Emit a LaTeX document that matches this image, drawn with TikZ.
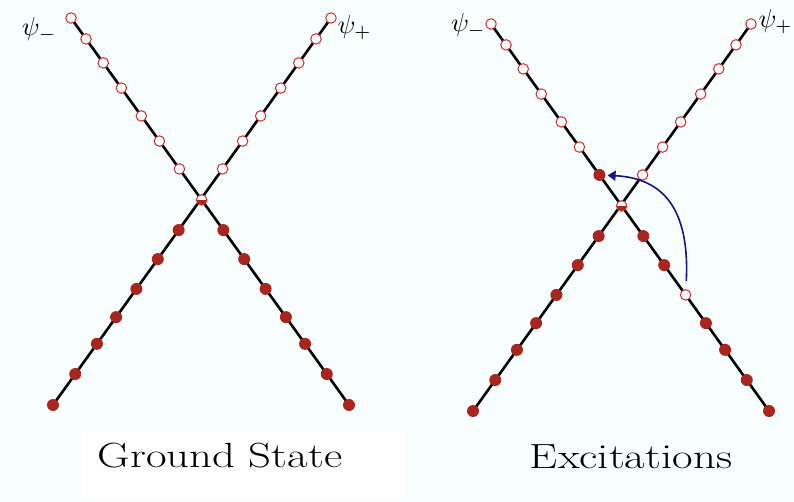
\documentclass[tikz,border=0pt]{standalone}
\usepackage{fontspec}
\usepackage{tikz}
\usetikzlibrary{arrows.meta, positioning, calc}
\definecolor{holered}{HTML}{D22B2B}
\definecolor{partred}{HTML}{A8261E}
\definecolor{jumpblue}{HTML}{16167E}
\definecolor{bgtint}{HTML}{F8FDFD}

\begin{document}
\begin{tikzpicture}[x=1pt, y=-1pt, every node/.style={inner sep=0pt},
    arm/.style={line width=2.6pt, black},
    hole/.style={circle, minimum size=10.5pt, draw=holered, line width=1pt, fill=white},
    part/.style={circle, minimum size=12pt, fill=partred},
    half/.style={hole, path picture={\fill[partred] (path picture bounding box.west) rectangle (path picture bounding box.south east);}},
    psilabel/.style={scale=2.6},
    paneltitle/.style={font=\fontsize{35}{38}\selectfont, xscale=1.28, anchor=base},
    jump/.style={jumpblue, line width=1.6pt, -{Triangle[length=8pt, width=10pt]}, shorten <=8pt, shorten >=2pt}]
                \useasboundingbox (0,0) rectangle (794,502);
                \fill[bgtint] (0,0) rectangle (794,502);
                \fill[white] (82,432) rectangle (405,500);
                % ground state
                \coordinate (gmtop) at (71,18);
                \coordinate (gmbot) at (349,405);
                \coordinate (gptop) at (331,18);
                \coordinate (gpbot) at (53,405);
                \draw[arm] (gmtop) -- (gmbot);
                \draw[arm] (gptop) -- (gpbot);
                \foreach \t [count=\i] in {0,.054,.116,.181,.253,.318,.390} {
                    \node[hole] (gm\i) at ($(gmtop)!\t!(gmbot)$) {};
                    \node[hole] (gp\i) at ($(gptop)!\t!(gpbot)$) {};
                }
                \foreach \t [count=\i from 9] in {.548,.623,.700,.773,.842,.920,1} {
                    \node[part] (gm\i) at ($(gmtop)!\t!(gmbot)$) {};
                    \node[part] (gp\i) at ($(gptop)!\t!(gpbot)$) {};
                }
                \node[half] (gc) at ($(gmtop)!.47!(gmbot)$) {};
                \node[psilabel, anchor=east] (glm) at (57,30) {$\psi_-$};
                \node[psilabel, anchor=west] (glp) at (337,28) {$\psi_+$};
                \node[paneltitle] (gtitle) at (220,467) {Ground State};
                % excitations
                \coordinate (emtop) at (491,24);
                \coordinate (embot) at (769,411);
                \coordinate (eptop) at (751,24);
                \coordinate (epbot) at (473,411);
                \draw[arm] (emtop) -- (embot);
                \draw[arm] (eptop) -- (epbot);
                \foreach \t/\s [count=\i] in {0/hole,.054/hole,.116/hole,.181/hole,.253/hole,.318/hole,.390/part} {
                    \node[\s] (em\i) at ($(emtop)!\t!(embot)$) {};
                    \node[hole] (ep\i) at ($(eptop)!\t!(epbot)$) {};
                }
                \foreach \t/\s [count=\i from 9] in {.548/part,.623/part,.700/hole,.773/part,.842/part,.920/part,1/part} {
                    \node[\s] (em\i) at ($(emtop)!\t!(embot)$) {};
                    \node[part] (ep\i) at ($(eptop)!\t!(epbot)$) {};
                }
                \node[half] (ec) at ($(emtop)!.47!(embot)$) {};
                \node[psilabel, anchor=east] (elm) at (486,26) {$\psi_-$};
                \node[psilabel, anchor=west] (elp) at (758,22) {$\psi_+$};
                \node[paneltitle] (etitle) at (631,468) {Excitations};
                \draw[jump] (em11) .. controls (690,205) and (660,178) .. (em7);
            \end{tikzpicture}
\end{document}
